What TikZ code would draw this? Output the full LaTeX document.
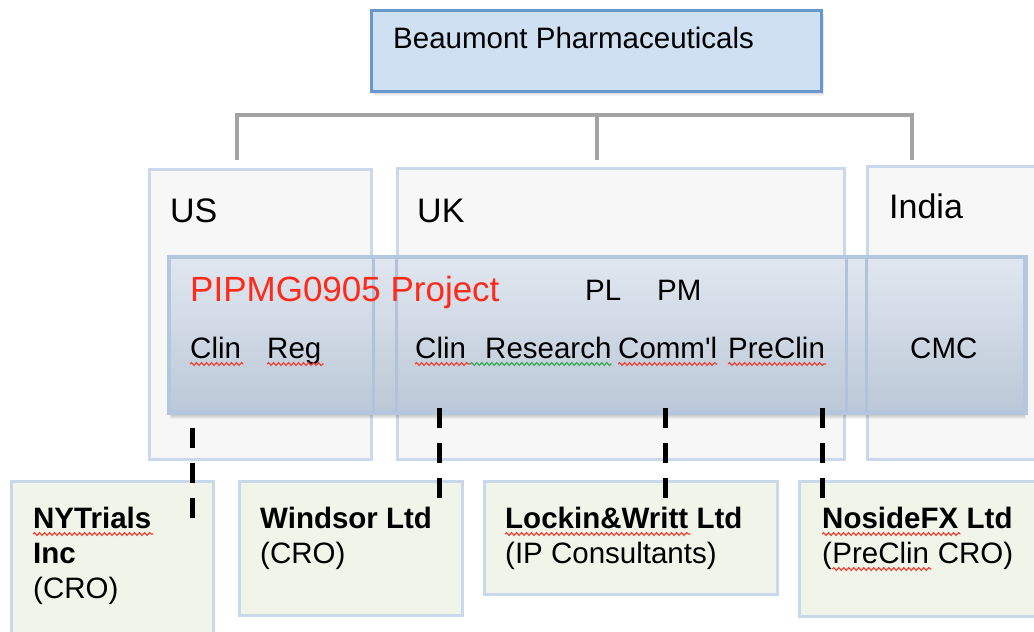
\documentclass[tikz,border=0pt]{standalone}
\usepackage{fontspec}
\setmainfont{Liberation Sans}
\usetikzlibrary{decorations.pathmorphing,calc}
\definecolor{topfill}{HTML}{CFE0F2}
\definecolor{topborder}{HTML}{6797CB}
\definecolor{ctryfill}{HTML}{F7F7F7}
\definecolor{ctryborder}{HTML}{C9D8EB}
\definecolor{projtop}{HTML}{E0E7F0}
\definecolor{projbot}{HTML}{BCC8D7}
\definecolor{projborder}{HTML}{B3C7DF}
\definecolor{projline}{HTML}{B0C3DB}
\definecolor{cofill}{HTML}{F1F4E9}
\definecolor{linkgray}{HTML}{A3A3A3}
\definecolor{spellred}{HTML}{F03A2E}
\definecolor{spellgreen}{HTML}{2EA84A}
\definecolor{projred}{HTML}{FF2A1A}
\begin{document}
\begin{tikzpicture}[x=1pt,y=-1pt,
  box/.style={rectangle, anchor=north west, inner sep=0pt, line width=3pt},
  topbox/.style={box, fill=topfill, draw=topborder},
  ctrybox/.style={box, fill=ctryfill, draw=ctryborder},
  projbox/.style={box, top color=projtop, bottom color=projbot, draw=projborder},
  cobox/.style={box, fill=cofill, draw=ctryborder},
  softshadow/.style={fill=black, opacity=0.045},
  txt/.style={anchor=base west, inner sep=0pt, font=\fontsize{29.5}{34}\selectfont},
  bigtxt/.style={anchor=base west, inner sep=0pt, font=\fontsize{34}{40}\selectfont},
  titletxt/.style={anchor=base west, inner sep=0pt, font=\fontsize{35}{40}\selectfont},
  cotxt/.style={txt, font=\fontsize{29.5}{34}\selectfont\bfseries},
  graylink/.style={draw=linkgray, line width=3.5pt},
  dashlink/.style={draw=black, line width=5pt, dash pattern=on 20pt off 15pt},
  spell/.style={decorate, decoration={snake, segment length=5pt, amplitude=1.4pt}, line width=1.1pt}
]
\useasboundingbox (0,0) rectangle (1034,632);
\fill[white] (0,0) rectangle (1034,632);

% top box with soft shadow
\foreach \i in {1,...,6} {
  \fill[softshadow] (370+\i*0.7,9+\i) rectangle (820+\i*0.7,90+\i);
}
\node[topbox, minimum width=450pt, minimum height=81pt] (top) at (370,9) {};
\node[txt] (toptxt) at (393,48) {Beaumont Pharmaceuticals};

% gray connectors
\coordinate (jl) at (237,115);
\coordinate (jm) at (597,115);
\coordinate (jr) at (912,115);
\coordinate (el) at (237,160);
\coordinate (em) at (597,160);
\coordinate (er) at (912,160);
\draw[graylink] (el) -- (jl) -- (jr) -- (er);
\draw[graylink] (jm) -- (em);

% country boxes
\node[ctrybox, minimum width=222pt, minimum height=290pt] (us) at (148,168) {};
\node[ctrybox, minimum width=447pt, minimum height=291pt] (uk) at (396,167) {};
\node[ctrybox, minimum width=220pt, minimum height=293pt] (india) at (866,165) {};
\node[bigtxt] (ustxt) at (170,222) {US};
\node[bigtxt] (uktxt) at (417,222) {UK};
\node[bigtxt] (indiatxt) at (889,218) {India};

% project box with soft shadow
\foreach \i in {1,...,9} {
  \fill[softshadow] (168+\i*0.3,256+\i) rectangle (1023+\i*0.3,410+\i);
}
\node[projbox, minimum width=855pt, minimum height=154pt] (proj) at (168,256) {};
\begin{scope}
  \clip (proj.north west) rectangle (proj.south east);
  \draw[projline, line width=3pt] (us.north east) -- (us.south east);
  \draw[projline, line width=3pt] (uk.north west) -- (uk.south west);
  \draw[projline, line width=3pt] (uk.north east) -- (uk.south east);
  \draw[projline, line width=3pt] (india.north west) -- (india.south west);
\end{scope}
\draw[projborder, line width=3pt] (proj.north west) rectangle (proj.south east);

\node[titletxt, text=projred] (ptitle) at (190,301) {PIPMG0905 Project};
\node[txt] (pl) at (585,300) {PL};
\node[txt] (pm) at (657,300) {PM};
\node[txt] (usclin) at (190,358) {Clin};
\node[txt] (usreg) at (267,358) {Reg};
\node[txt] (ukclin) at (415,358) {Clin};
\node[txt] (ukres) at (485,358) {Research};
\node[txt] (ukcomm) at (618,358) {Comm\textquotesingle l};
\node[txt] (ukpre) at (728,358) {PreClin};
\node[txt] (cmc) at (910,358) {CMC};

\draw[spell, spellred] ($(usclin.base west)+(0,6)$) -- ($(usclin.base east)+(2,6)$);
\draw[spell, spellred] ($(usreg.base west)+(0,6)$) -- ($(usreg.base east)+(2,6)$);
\draw[spell, spellred] ($(ukclin.base west)+(0,6)$) -- ($(ukclin.base east)+(4,6)$);
\draw[spell, spellgreen] ($(ukclin.base east)+(4,6)$) -- ($(ukres.base east)+(0,6)$);
\draw[spell, spellred] ($(ukcomm.base west)+(0,6)$) -- ($(ukcomm.base east)+(0,6)$);
\draw[spell, spellred] ($(ukpre.base west)+(0,6)$) -- ($(ukpre.base east)+(1,6)$);

% company boxes
\node[cobox, minimum width=202pt, minimum height=170pt] (ny) at (10,480) {};
\node[cobox, minimum width=223pt, minimum height=134pt] (wind) at (238,480) {};
\node[cobox, minimum width=293pt, minimum height=113pt] (lock) at (483,480) {};
\node[cobox, minimum width=250pt, minimum height=135pt] (nose) at (798,480) {};

\node[cotxt] (ny1) at (33,528) {NYTrials};
\node[cotxt] (ny2) at (33,563) {Inc};
\node[txt] (ny3) at (33,598) {(CRO)};
\node[cotxt] (wi1) at (260,528) {Windsor Ltd};
\node[txt] (wi2) at (260,563) {(CRO)};
\node[cotxt] (lo1) at (505,528) {Lockin\&Writt};
\node[cotxt, anchor=base west] (lo1b) at ($(lo1.base east)+(8,0)$) {Ltd};
\node[txt] (lo2) at (505,563) {(IP Consultants)};
\node[cotxt] (no1) at (822,528) {NosideFX};
\node[cotxt, anchor=base west] (no1b) at ($(no1.base east)+(8,0)$) {Ltd};
\node[txt] (no2a) at (822,563) {(};
\node[txt] (no2b) at (no2a.base east) {PreClin};
\node[txt] (no2c) at (no2b.base east) {\ CRO)};

\draw[spell, spellred] ($(ny1.base west)+(0,6)$) -- ($(ny1.base east)+(2,6)$);
\draw[spell, spellred] ($(lo1.base west)+(0,6)$) -- ($(lo1.base east)+(2,6)$);
\draw[spell, spellred] ($(no1.base west)+(0,6)$) -- ($(no1.base east)+(2,6)$);
\draw[spell, spellred] ($(no2b.base west)+(0,6)$) -- ($(no2b.base east)+(2,6)$);

% dashed links
\coordinate (d1a) at (192,428);
\coordinate (d1b) at (192,519);
\coordinate (d2a) at (439,408);
\coordinate (d2b) at (439,499);
\coordinate (d3a) at (665,408);
\coordinate (d3b) at (665,499);
\coordinate (d4a) at (822,408);
\coordinate (d4b) at (822,499);
\draw[dashlink] (d1a) -- (d1b);
\draw[dashlink] (d2a) -- (d2b);
\draw[dashlink] (d3a) -- (d3b);
\draw[dashlink] (d4a) -- (d4b);
\end{tikzpicture}
\end{document}
